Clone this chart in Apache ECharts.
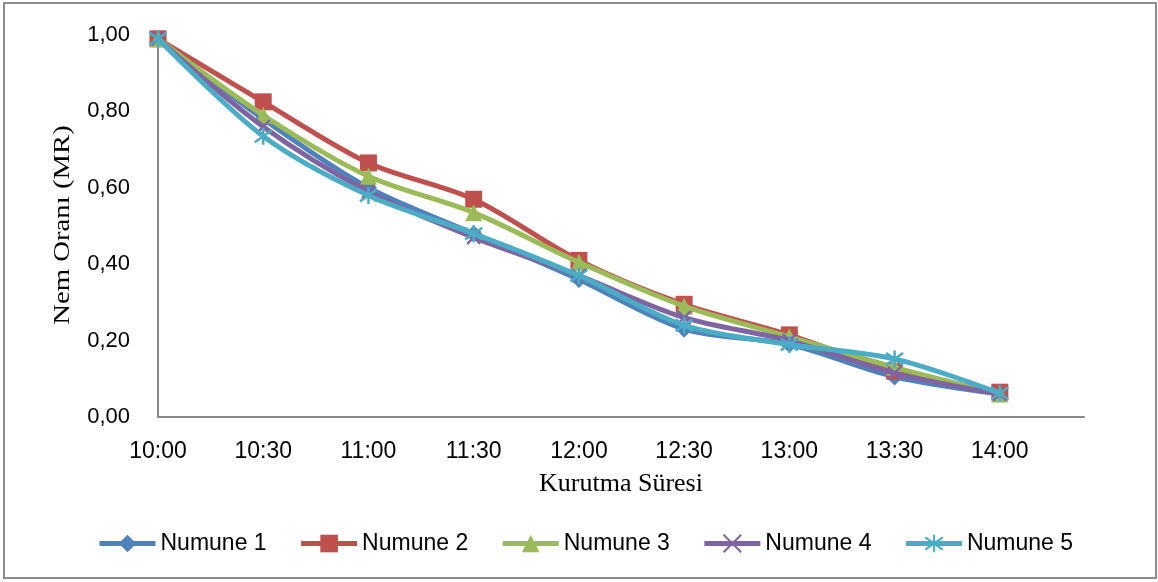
<!DOCTYPE html>
<html>
<head>
<meta charset="utf-8">
<title>Nem Oranı</title>
<script src="https://cdn.jsdelivr.net/npm/echarts@6/dist/echarts.min.js"></script>
<style>
  html, body { margin: 0; padding: 0; background: #ffffff; }
  #chart { width: 1158px; height: 582px; }
</style>
</head>
<body>
<div id="chart"></div>
<script>
// Drying time steps (x axis)
const times = ['10:00', '10:30', '11:00', '11:30', '12:00', '12:30', '13:00', '13:30', '14:00'];

// Moisture ratio (MR) for each sample
const numune1 = [0.99, 0.78, 0.60, 0.48, 0.36, 0.23, 0.19, 0.105, 0.06];
const numune2 = [0.99, 0.825, 0.665, 0.57, 0.41, 0.295, 0.215, 0.12, 0.065];
const numune3 = [0.99, 0.79, 0.63, 0.535, 0.405, 0.29, 0.21, 0.13, 0.06];
const numune4 = [0.99, 0.76, 0.59, 0.47, 0.37, 0.26, 0.20, 0.115, 0.06];
const numune5 = [0.99, 0.735, 0.58, 0.48, 0.37, 0.24, 0.19, 0.152, 0.062];

const names = ['Numune 1', 'Numune 2', 'Numune 3', 'Numune 4', 'Numune 5'];
const colors = ['#4F81BD', '#C0504D', '#9BBB59', '#8064A2', '#4BACC6'];

const crossPath = 'path://M0,0L10,10M10,0L0,10';
const starPath = 'path://M0,1.5L10,8.5M10,1.5L0,8.5M5,0L5,10';

function pairs(values) {
  return values.map((v, i) => [i, v]);
}

function makeSeries(idx, values, symbol, size, stroked) {
  return {
    name: names[idx],
    type: 'line',
    data: pairs(values),
    smooth: 0.3,
    symbol: symbol,
    symbolSize: size,
    showAllSymbol: true,
    lineStyle: { color: colors[idx], width: 5 },
    itemStyle: stroked
      ? { color: colors[idx], borderColor: colors[idx], borderWidth: 2.5 }
      : { color: colors[idx], borderWidth: 0 },
    emphasis: { disabled: true },
    z: 2 + idx
  };
}

const chart = echarts.init(document.getElementById('chart'), null, { renderer: 'canvas' });

chart.setOption({
  animation: false,
  backgroundColor: '#ffffff',
  grid: { left: 158, top: 35, right: 74, bottom: 165, containLabel: false },
  xAxis: {
    type: 'value',
    min: 0,
    max: 8.8,
    interval: 1,
    name: 'Kurutma Süresi',
    nameLocation: 'middle',
    nameGap: 54,
    nameTextStyle: { fontFamily: 'Liberation Serif', fontSize: 26, color: '#000' },
    axisLine: { show: true, lineStyle: { color: '#8a8a8a', width: 2 } },
    axisTick: { show: false },
    splitLine: { show: false },
    axisLabel: {
      margin: 23,
      fontFamily: 'Liberation Sans',
      fontSize: 23,
      color: '#000',
      showMaxLabel: false,
      formatter: v => (Number.isInteger(v) && times[v] !== undefined) ? times[v] : ''
    }
  },
  yAxis: {
    type: 'value',
    min: 0,
    max: 1,
    interval: 0.2,
    axisLine: { show: true, lineStyle: { color: '#8a8a8a', width: 2 } },
    axisTick: { show: false },
    splitLine: { show: false },
    axisLabel: {
      margin: 28,
      fontFamily: 'Liberation Sans',
      fontSize: 22,
      color: '#000',
      formatter: v => v.toFixed(2).replace('.', ',')
    }
  },
  legend: {
    left: 92,
    top: 527,
    itemWidth: 56,
    itemHeight: 22,
    itemGap: 32,
    lineStyle: { width: 5 },
    textStyle: { fontFamily: 'Liberation Sans', fontSize: 23, color: '#000' },
    data: names
  },
  graphic: [
    {
      type: 'rect',
      shape: { x: 4, y: 3, width: 1152, height: 575 },
      style: { fill: 'none', stroke: '#8c8c8c', lineWidth: 2 },
      silent: true
    },
    {
      type: 'text',
      x: 63,
      y: 225,
      rotation: Math.PI / 2,
      scaleX: 1.25,
      style: {
        text: 'Nem Oranı (MR)',
        fontFamily: 'Liberation Serif',
        fontSize: 23,
        fill: '#000',
        textAlign: 'center',
        textVerticalAlign: 'middle'
      },
      silent: true
    }
  ],
  series: [
    makeSeries(0, numune1, 'diamond', 17, false),
    makeSeries(1, numune2, 'rect', 17, false),
    makeSeries(2, numune3, 'triangle', 17, false),
    makeSeries(3, numune4, crossPath, 13, true),
    makeSeries(4, numune5, starPath, 17, true)
  ]
});
</script>
</body>
</html>
